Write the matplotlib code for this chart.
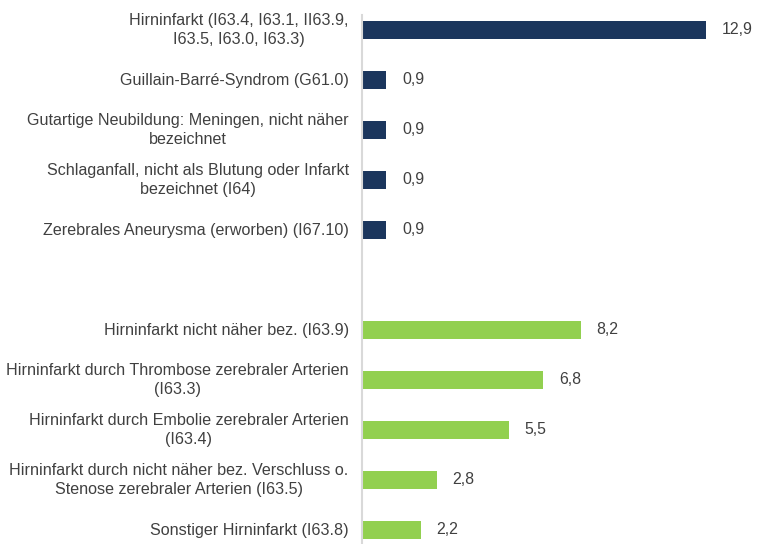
import matplotlib
matplotlib.use("Agg")
import matplotlib.pyplot as plt

# --- data ---
labels = [
    "Hirninfarkt (I63.4, I63.1, II63.9,\nI63.5, I63.0, I63.3)",
    "Guillain-Barré-Syndrom (G61.0)",
    "Gutartige Neubildung: Meningen, nicht näher\nbezeichnet",
    "Schlaganfall, nicht als Blutung oder Infarkt\nbezeichnet (I64)",
    "Zerebrales Aneurysma (erworben) (I67.10)",
    "",
    "Hirninfarkt nicht näher bez. (I63.9)",
    "Hirninfarkt durch Thrombose zerebraler Arterien\n(I63.3)",
    "Hirninfarkt durch Embolie zerebraler Arterien\n(I63.4)",
    "Hirninfarkt durch nicht näher bez. Verschluss o.\nStenose zerebraler Arterien (I63.5)",
    "Sonstiger Hirninfarkt (I63.8)",
]
values = [12.9, 0.9, 0.9, 0.9, 0.9, None, 8.2, 6.8, 5.5, 2.8, 2.2]
groups = [0, 0, 0, 0, 0, None, 1, 1, 1, 1, 1]
colors = ["#1B365D", "#92D050"]
text_col = "#404040"

plt.rcParams["font.family"] = ["Liberation Sans", "DejaVu Sans"]

fig = plt.figure(figsize=(7.64, 5.44), dpi=100)
ax = fig.add_axes([362 / 764, 0.0, 1 - 362 / 764, 1 - 15 / 544])

for i, (v, g) in enumerate(zip(values, groups)):
    if v is None:
        continue
    ax.barh(i, v, height=0.36, color=colors[g])
    ax.text(v + 0.6, i, f"{v:.1f}".replace(".", ","), va="center", ha="left",
            fontsize=11.4, color=text_col)

for i, lab in enumerate(labels):
    if lab:
        ax.text(-0.5, i, lab, ha="right", va="center", fontsize=11.6,
                color=text_col, multialignment="center", linespacing=1.33)

ax.set_xlim(0, 402 / (344 / 12.9))
ax.set_ylim(10.28, -0.3)
ax.set_xticks([])
ax.set_yticks([])
for s in ["top", "right", "bottom"]:
    ax.spines[s].set_visible(False)
ax.spines["left"].set_color("#D9D9D9")
ax.spines["left"].set_linewidth(1.5)

fig.savefig("out.png", dpi=100)
